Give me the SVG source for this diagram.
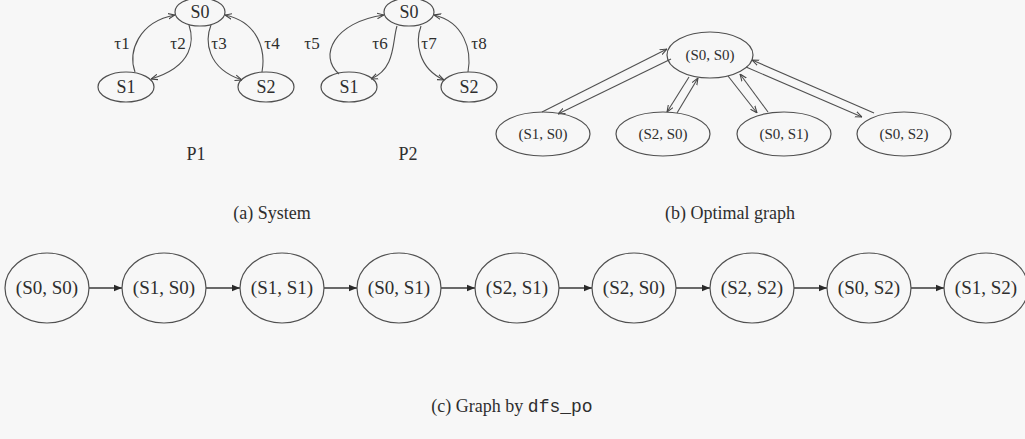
<svg xmlns="http://www.w3.org/2000/svg" width="1025" height="439" viewBox="0 0 1025 439" font-family="'Liberation Serif','Times New Roman','DejaVu Serif',serif">
<defs>
<marker id="ah" viewBox="0 0 10 10" refX="10" refY="5" markerWidth="7" markerHeight="7" orient="auto" markerUnits="userSpaceOnUse">
<path d="M0,1 L10,5 L0,9" fill="none" stroke="#444" stroke-width="1.5"/>
</marker>
<marker id="af" viewBox="0 0 10 10" refX="10" refY="5" markerWidth="11" markerHeight="8" orient="auto" markerUnits="userSpaceOnUse">
<path d="M0,1 L10,5 L0,9 Z" fill="#2a2a2a"/>
</marker>
</defs>
<style>
.n{fill:none;stroke:#505050;stroke-width:1.2}
.c{fill:none;stroke:#3a3a3a;stroke-width:1.3}
.e{fill:none;stroke:#505050;stroke-width:1.1}
text{font-family:'Liberation Serif','Times New Roman','DejaVu Serif',serif;fill:#2e2e2e;text-anchor:middle}
.s{font-size:18px}
.t{font-size:17px}
.o{font-size:15px}
.b{font-size:19px}
.cap{font-size:18px}
.mono{font-family:'Liberation Mono','Courier New',monospace}
</style>
<rect width="1025" height="439" fill="#f7f7f7"/>

<g id="connectors">
<!-- P1 -->
<path class="e" d="M135,72 C128,52 138,22 175,15" marker-end="url(#ah)"/>
<path class="e" d="M189,25 C194,40 194,66 151,79" marker-end="url(#ah)"/>
<path class="e" d="M211,25 C205,40 206,68 242,80" marker-end="url(#ah)"/>
<path class="e" d="M262,72 C266,50 258,22 225,15" marker-end="url(#ah)"/>
<!-- P2 -->
<path class="e" d="M339,74 C318,56 334,22 384,15" marker-end="url(#ah)"/>
<path class="e" d="M397,26 C392,42 396,68 371,79" marker-end="url(#ah)"/>
<path class="e" d="M421,26 C415,42 418,68 444,80" marker-end="url(#ah)"/>
<path class="e" d="M468,72 C472,50 464,22 434,15" marker-end="url(#ah)"/>
<!-- optimal graph -->
<line class="e" x1="542" y1="112" x2="667" y2="49" marker-end="url(#ah)"/>
<line class="e" x1="671" y1="59" x2="558" y2="114" marker-end="url(#ah)"/>
<line class="e" x1="689" y1="77" x2="667" y2="112" marker-end="url(#ah)"/>
<line class="e" x1="677" y1="113" x2="698" y2="78" marker-end="url(#ah)"/>
<line class="e" x1="728" y1="76" x2="757" y2="113" marker-end="url(#ah)"/>
<line class="e" x1="768" y1="112" x2="740" y2="74" marker-end="url(#ah)"/>
<line class="e" x1="746" y1="67" x2="862" y2="117" marker-end="url(#ah)"/>
<line class="e" x1="874" y1="113" x2="752" y2="60" marker-end="url(#ah)"/>
<!-- dfs_po chain -->
<line class="c" x1="89" y1="288" x2="122" y2="288" marker-end="url(#af)"/>
<line class="c" x1="206" y1="288" x2="240" y2="288" marker-end="url(#af)"/>
<line class="c" x1="324" y1="288" x2="357" y2="288" marker-end="url(#af)"/>
<line class="c" x1="441" y1="288" x2="475" y2="288" marker-end="url(#af)"/>
<line class="c" x1="559" y1="288" x2="592" y2="288" marker-end="url(#af)"/>
<line class="c" x1="676" y1="288" x2="710" y2="288" marker-end="url(#af)"/>
<line class="c" x1="794" y1="288" x2="827" y2="288" marker-end="url(#af)"/>
<line class="c" x1="911" y1="288" x2="944" y2="288" marker-end="url(#af)"/>
</g>

<!-- P1 nodes -->
<g id="p1-s0"><ellipse class="n" cx="200" cy="12" rx="25" ry="14"/><text class="s" x="200" y="18">S0</text></g>
<g id="p1-s1"><ellipse class="n" cx="126" cy="87" rx="28" ry="15"/><text class="s" x="126" y="93">S1</text></g>
<g id="p1-s2"><ellipse class="n" cx="266" cy="87" rx="28" ry="15"/><text class="s" x="266" y="93">S2</text></g>
<g id="p1-labels">
<text class="t" x="122" y="49">τ1</text><text class="t" x="178" y="49">τ2</text>
<text class="t" x="219" y="49">τ3</text><text class="t" x="272" y="49">τ4</text>
<text class="s" x="196" y="160">P1</text>
</g>
<!-- P2 nodes -->
<g id="p2-s0"><ellipse class="n" cx="409" cy="12" rx="25" ry="14"/><text class="s" x="409" y="18">S0</text></g>
<g id="p2-s1"><ellipse class="n" cx="349" cy="87" rx="28" ry="15"/><text class="s" x="349" y="93">S1</text></g>
<g id="p2-s2"><ellipse class="n" cx="469" cy="87" rx="28" ry="15"/><text class="s" x="469" y="93">S2</text></g>
<g id="p2-labels">
<text class="t" x="312" y="49">τ5</text><text class="t" x="380" y="49">τ6</text>
<text class="t" x="429" y="49">τ7</text><text class="t" x="479" y="49">τ8</text>
<text class="s" x="408" y="160">P2</text>
</g>

<!-- optimal graph nodes -->
<g id="og-s0s0"><ellipse class="n" cx="710" cy="55" rx="43" ry="23"/><text class="o" x="710" y="60">(S0, S0)</text></g>
<g id="og-s1s0"><ellipse class="n" cx="543" cy="134" rx="47" ry="22"/><text class="o" x="543" y="139">(S1, S0)</text></g>
<g id="og-s2s0"><ellipse class="n" cx="663" cy="134" rx="47" ry="22"/><text class="o" x="663" y="139">(S2, S0)</text></g>
<g id="og-s0s1"><ellipse class="n" cx="784" cy="134" rx="47" ry="22"/><text class="o" x="784" y="139">(S0, S1)</text></g>
<g id="og-s0s2"><ellipse class="n" cx="904" cy="134" rx="47" ry="22"/><text class="o" x="904" y="139">(S0, S2)</text></g>

<!-- dfs_po nodes -->
<g id="d1"><ellipse class="n" cx="47" cy="288" rx="42" ry="35"/><text class="b" x="47" y="294">(S0, S0)</text></g>
<g id="d2"><ellipse class="n" cx="164" cy="288" rx="42" ry="35"/><text class="b" x="164" y="294">(S1, S0)</text></g>
<g id="d3"><ellipse class="n" cx="282" cy="288" rx="42" ry="35"/><text class="b" x="282" y="294">(S1, S1)</text></g>
<g id="d4"><ellipse class="n" cx="399" cy="288" rx="42" ry="35"/><text class="b" x="399" y="294">(S0, S1)</text></g>
<g id="d5"><ellipse class="n" cx="517" cy="288" rx="42" ry="35"/><text class="b" x="517" y="294">(S2, S1)</text></g>
<g id="d6"><ellipse class="n" cx="634" cy="288" rx="42" ry="35"/><text class="b" x="634" y="294">(S2, S0)</text></g>
<g id="d7"><ellipse class="n" cx="752" cy="288" rx="42" ry="35"/><text class="b" x="752" y="294">(S2, S2)</text></g>
<g id="d8"><ellipse class="n" cx="869" cy="288" rx="42" ry="35"/><text class="b" x="869" y="294">(S0, S2)</text></g>
<g id="d9"><ellipse class="n" cx="986" cy="288" rx="42" ry="35"/><text class="b" x="986" y="294">(S1, S2)</text></g>

<g id="captions">
<text class="cap" x="272" y="219">(a) System</text>
<text class="cap" x="730" y="219">(b) Optimal graph</text>
<text class="cap" x="512" y="412" font-size="19">(c) Graph by <tspan class="mono">dfs_po</tspan></text>
</g>
</svg>
